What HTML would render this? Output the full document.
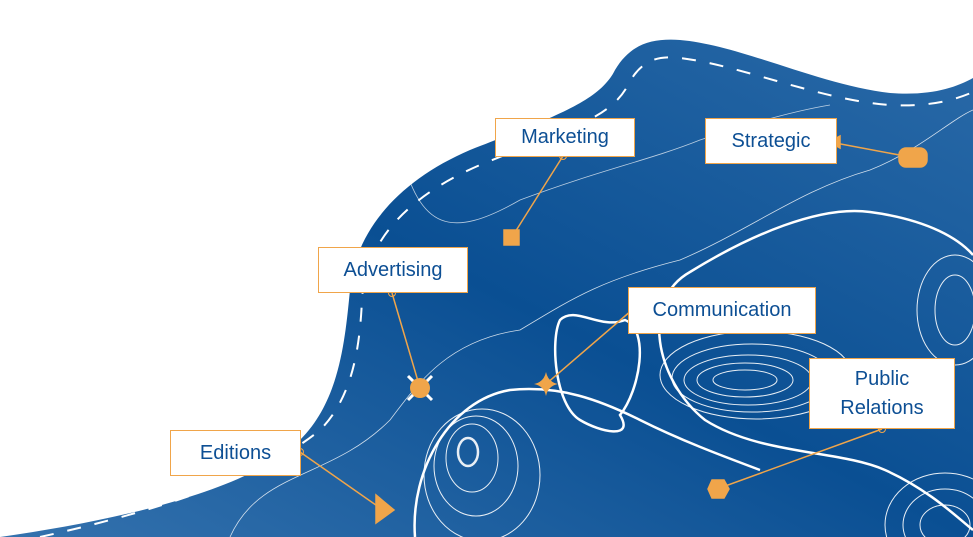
<!DOCTYPE html>
<html><head><meta charset="utf-8"><style>
html,body{margin:0;padding:0;background:#fff;width:973px;height:537px;overflow:hidden}
body{position:relative;font-family:"Liberation Sans",sans-serif}
svg{display:block}
.lb{position:absolute;background:#fff;border:1.5px solid #f0a54a;color:#0d4f94;font-size:20px;box-sizing:border-box;display:flex;align-items:center;justify-content:center;text-align:center;line-height:29px}
</style></head><body>
<svg width="973" height="537" style="position:absolute;left:0;top:0">
<defs>
<linearGradient id="g" x1="0" y1="1" x2="1" y2="0">
<stop offset="0" stop-color="#3472ae"/><stop offset="0.5" stop-color="#0a4f93"/><stop offset="1" stop-color="#2a6aa8"/>
</linearGradient>
<clipPath id="c"><path d="M0,537 C120,520 250,490 300,440 C340,400 345,340 350,290 C355,230 400,180 470,150 C560,115 600,100 615,70 C630,45 650,38 680,40 C740,45 820,85 890,93 C930,96 955,88 973,78 L973,537 Z"/></clipPath>
</defs>
<path d="M0,537 C120,520 250,490 300,440 C340,400 345,340 350,290 C355,230 400,180 470,150 C560,115 600,100 615,70 C630,45 650,38 680,40 C740,45 820,85 890,93 C930,96 955,88 973,78 L973,537 Z" fill="url(#g)"/>
<path d="M40,537 C140,515 260,480 320,430 C355,395 360,340 362,300 C365,240 410,195 480,165 C560,132 610,120 628,85 C640,62 655,55 680,58 C740,65 820,100 890,105 C930,107 955,100 973,92" fill="none" stroke="#fff" stroke-width="2" stroke-dasharray="14,14"/>
<g clip-path="url(#c)" fill="none" stroke="#fff">
<path d="M230,537 C260,470 330,480 390,420 C420,380 450,340 520,330 C570,300 600,280 680,260 C750,230 800,190 870,170 C920,150 950,120 973,110" stroke-width="0.8" opacity=".8"/>
<path d="M400,150 C420,230 450,240 520,200 C600,170 650,160 700,140 C760,120 800,110 830,105" stroke-width="0.8" opacity=".7"/>
<path d="M415,537 C410,470 450,400 510,390 C560,385 600,400 640,420 C680,440 720,455 760,470" stroke-width="2.5"/>
<path d="M560,320 C575,305 600,330 625,320 C650,330 640,390 620,415 C635,440 600,432 580,420 C555,405 550,340 560,320 Z" stroke-width="2.5"/>
<path d="M690,272 C750,235 820,205 870,212 C930,220 960,240 973,255 M690,272 C640,300 655,380 705,420 C760,455 840,450 885,470 C930,490 960,520 973,530" stroke-width="2.5"/>
<g stroke-width="1" opacity=".9">
<ellipse cx="745" cy="380" rx="32" ry="10"/><ellipse cx="745" cy="380" rx="48" ry="17"/><ellipse cx="748" cy="380" rx="64" ry="25"/><ellipse cx="752" cy="378" rx="80" ry="34"/><ellipse cx="756" cy="375" rx="96" ry="44"/>
<ellipse cx="468" cy="452" rx="10" ry="14" stroke-width="2.5"/><ellipse cx="472" cy="458" rx="26" ry="34"/><ellipse cx="476" cy="466" rx="42" ry="50"/><ellipse cx="482" cy="475" rx="58" ry="66"/>
<ellipse cx="945" cy="525" rx="25" ry="20"/><ellipse cx="945" cy="525" rx="42" ry="36"/><ellipse cx="945" cy="525" rx="60" ry="52"/>
<ellipse cx="955" cy="310" rx="20" ry="35"/><ellipse cx="955" cy="310" rx="38" ry="55"/>
</g>
</g>
<g stroke="#f0a54a" stroke-width="1.5" fill="#f0a54a">
<line x1="563" y1="156" x2="512" y2="237"/><rect x="504" y="230" width="15" height="15"/>
<line x1="392" y1="293" x2="420" y2="388"/>
<line x1="300" y1="452" x2="383" y2="510"/><polygon points="376,495 394,510 376,523"/>
<line x1="632" y1="310" x2="546" y2="384"/>
<line x1="882" y1="429" x2="717" y2="489"/><polygon points="708,489 712,480 724,480 729,489 724,498 712,498"/>
<line x1="830" y1="142" x2="910" y2="157"/><rect x="899" y="148" width="28" height="19" rx="7"/>
<polygon points="829,142 840,136 840,148"/>
</g>
<g stroke="#fff" stroke-width="3"><line x1="408" y1="376" x2="432" y2="400"/><line x1="432" y1="376" x2="408" y2="400"/></g>
<circle cx="420" cy="388" r="10" fill="#f0a54a"/>
<path d="M546,372 Q548,382 558,384 Q548,386 546,396 Q544,386 534,384 Q544,382 546,372Z" fill="#f0a54a"/>
<g fill="none" stroke="#f0a54a"><circle cx="392" cy="293" r="3.5"/><circle cx="300" cy="452" r="3.5"/><circle cx="882" cy="429" r="3.5"/><circle cx="563" cy="156" r="3.5"/><circle cx="632" cy="310" r="3.5"/></g>
</svg>
<div class="lb" style="left:495px;top:118px;width:140px;height:39px">Marketing</div>
<div class="lb" style="left:705px;top:118px;width:132px;height:46px">Strategic</div>
<div class="lb" style="left:318px;top:247px;width:150px;height:46px">Advertising</div>
<div class="lb" style="left:628px;top:287px;width:188px;height:47px">Communication</div>
<div class="lb" style="left:809px;top:358px;width:146px;height:71px">Public<br>Relations</div>
<div class="lb" style="left:170px;top:430px;width:131px;height:46px">Editions</div>
</body></html>
